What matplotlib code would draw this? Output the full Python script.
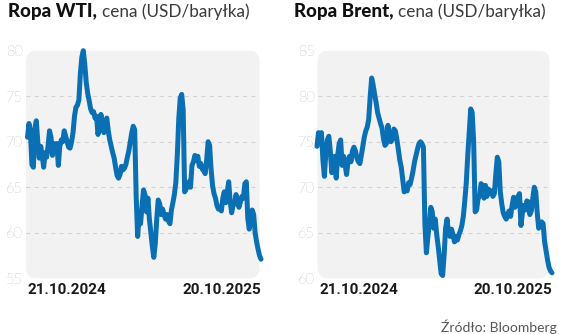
import matplotlib
matplotlib.use("Agg")
import matplotlib.pyplot as plt
from matplotlib.patches import FancyBboxPatch

# Notowania dzienne (próbkowane), 21.10.2024 - 20.10.2025
wti = [
    70.5, 72.0, 71.0, 67.5, 67.2, 71.5, 72.3, 70.0, 68.2, 69.5,
    68.5, 67.2, 68.8, 68.3, 69.5, 71.2, 70.5, 68.5, 69.8, 69.0,
    69.8, 67.4, 69.5, 70.2, 70.0, 71.2, 70.6, 70.0, 69.4, 69.3,
    70.0, 71.0, 72.8, 73.8, 74.0, 74.6, 77.5, 79.3, 80.0, 78.5,
    76.5, 75.3, 74.5, 73.6, 73.2, 73.3, 72.6, 72.8, 70.8, 71.8,
    73.0, 72.0, 71.0, 72.2, 72.6, 71.2, 70.2, 69.5, 68.8, 68.2,
    67.2, 66.3, 66.0, 66.4, 67.3, 66.9, 67.1, 67.5, 68.3, 69.0,
    70.0, 71.0, 71.7, 71.3, 64.0, 59.6, 61.8, 61.0, 63.0, 64.7,
    64.2, 62.3, 63.8, 61.5, 60.0, 58.5, 57.3, 58.8, 61.5, 63.6,
    63.2, 62.0, 62.6, 62.0, 61.5, 62.0, 61.3, 61.0, 62.5, 63.3,
    64.2, 65.5, 68.5, 72.5, 74.8, 75.2, 73.5, 64.5, 64.8, 65.2,
    65.6, 65.0, 67.4, 67.8, 68.5, 68.0, 68.4, 67.3, 67.6, 67.0,
    66.8, 66.5, 68.0, 70.0, 69.6, 67.0, 65.2, 64.3, 63.8, 63.0,
    62.6, 62.8, 62.4, 63.8, 64.5, 63.3, 64.5, 65.6, 63.5, 62.2,
    63.0, 63.2, 64.2, 63.6, 62.8, 63.4, 64.0, 63.8, 65.4, 65.6,
    61.6, 60.4, 61.5, 62.5, 62.0, 60.0, 59.0, 58.2, 57.5, 57.1,
]

brent = [
    74.5, 76.0, 75.8, 76.0, 73.0, 71.2, 73.8, 75.2, 75.6, 74.0,
    71.6, 72.5, 73.4, 71.0, 73.5, 74.8, 75.2, 72.4, 73.4, 72.5,
    71.4, 72.8, 73.4, 72.8, 74.0, 74.4, 74.0, 73.2, 72.8, 72.6,
    73.5, 74.5, 75.5, 76.2, 76.6, 77.5, 80.0, 82.0, 81.2, 80.2,
    79.3, 78.2, 77.6, 77.0, 76.5, 75.3, 74.6, 74.8, 76.8, 75.5,
    75.0, 75.3, 76.4, 76.2, 75.3, 74.2, 73.0, 72.2, 70.8, 69.5,
    70.0, 69.6, 70.5, 70.3, 71.0, 71.8, 72.8, 73.5, 74.2, 74.8,
    75.0, 74.8, 74.4, 66.0, 62.8, 64.5, 66.0, 67.8, 67.3, 65.5,
    66.5, 64.8, 63.5, 62.0, 60.5, 60.3, 62.5, 65.5, 66.5, 65.0,
    64.6, 65.4, 64.8, 64.0, 64.6, 64.2, 64.8, 65.2, 65.8, 66.8,
    68.5, 70.5, 73.5, 76.0, 78.6, 78.2, 75.0, 67.3, 67.5, 68.8,
    69.0, 70.4, 70.2, 68.8, 70.2, 69.0, 69.8, 69.4, 69.6, 69.0,
    69.3, 71.5, 73.3, 72.8, 69.5, 68.2, 67.2, 66.8, 66.5, 67.0,
    67.4, 66.8, 68.0, 68.9, 67.8, 68.5, 69.0, 69.3, 65.8, 67.2,
    68.0, 67.5, 68.5, 68.4, 67.0, 67.4, 68.8, 70.0, 69.5, 67.2,
    65.5, 66.0, 66.2, 66.0, 64.0, 63.0, 62.0, 61.2, 60.8, 60.6,
]

wti_ticks = [55, 60, 65, 70, 75, 80]
brent_ticks = [60, 65, 70, 75, 80, 85]
date_start = "21.10.2024"
date_end = "20.10.2025"

LINE = "#0b6fb3"
BG = "#f2f2f2"
GRID = "#d2d2d2"
TICK = "#8a8a8a"

W, H = 564, 334
plt.rcParams["font.family"] = ["Lato", "DejaVu Sans"]

fig = plt.figure(figsize=(W / 100, H / 100), dpi=100)
renderer = fig.canvas.get_renderer()


def px_axes(x0, x1, y0, y1):
    return fig.add_axes([x0 / W, 1 - y1 / H, (x1 - x0) / W, (y1 - y0) / H])


def panel(x0, x1, first_px, last_px, values, ticks, title_bold, title_x):
    ax = px_axes(x0, x1, 50.7, 278.3)
    n = len(values)
    scale = (last_px - first_px) / (n - 1)
    a = -(first_px - x0) / scale
    ax.set_xlim(a, a + (x1 - x0) / scale)
    ax.set_ylim(ticks[0], ticks[-1])

    ax.patch.set_visible(False)
    for s in ax.spines.values():
        s.set_visible(False)
    bg = FancyBboxPatch((0, 0), 1, 1, boxstyle="round,pad=0,rounding_size=0.045",
                        transform=ax.transAxes, facecolor=BG, edgecolor="none",
                        zorder=0, clip_on=False)
    ax.add_patch(bg)
    for v in ticks[1:-1]:
        ax.axhline(v, color=GRID, lw=0.8, ls=(0, (3.5, 4)), zorder=1)

    ax.plot(range(n), values, color=LINE, lw=3.6, solid_joinstyle="round",
            solid_capstyle="round", zorder=3, clip_on=False)

    ax.set_xticks([])
    ax.set_yticks(ticks)
    ax.tick_params(axis="y", length=0, pad=2, labelsize=10.5, labelcolor=TICK)
    for lbl in ax.get_yticklabels():
        lbl.set_fontweight("light")

    # daty na początku i końcu osi
    fig.text((x0 + 2) / W, 1 - 290 / H, date_start, ha="left", va="center",
             fontsize=11, fontweight="bold", color="#1a1a1a", family="Roboto")
    fig.text(last_px / W, 1 - 290 / H, date_end, ha="right", va="center",
             fontsize=11, fontweight="bold", color="#1a1a1a", family="Roboto")

    # tytuł: pogrubiona nazwa + opis jednostki zaraz za nią
    t = fig.text(title_x / W, 1 - 17.3 / H, title_bold, ha="left", va="baseline",
                 fontsize=13.5, fontweight="black", color="#111111")
    x_end = t.get_window_extent(renderer).x1
    fig.text((x_end + 5) / W, 1 - 17.3 / H, "cena (USD/baryłka)", ha="left",
             va="baseline", fontsize=12.3, fontweight="normal", color="#3a3a3a")
    return ax


panel(26, 259.5, 27.5, 261, wti, wti_ticks, "Ropa WTI,", 8)
panel(317.5, 549.5, 317, 552, brent, brent_ticks, "Ropa Brent,", 293.5)

fig.text(557 / W, 1 - 326.5 / H, "Źródło: Bloomberg", ha="right", va="center",
         fontsize=10, fontweight="normal", color="#555555")

fig.savefig("out.png", dpi=100, facecolor="white")
